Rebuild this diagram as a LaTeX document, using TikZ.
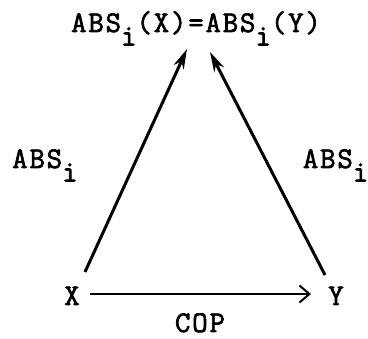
\documentclass[tikz,border=0pt]{standalone}
\usepackage{fontspec}
\newfontfamily\tw{Latin Modern Mono}[FakeBold=2.2,LetterSpace=6]
\usetikzlibrary{arrows.meta}
\newcommand{\sbi}{\raisebox{-0.45em}{i}}
\tikzset{
  lbl/.style={font=\tw\fontsize{30}{34}\selectfont, inner sep=0pt, anchor=base},
  diag/.style={line width=3pt, -{Stealth[length=20pt,width=11pt]}},
  horiz/.style={line width=2.4pt, -{Straight Barb[length=10pt,width=17pt,line width=2pt]}}
}
\begin{document}
\begin{tikzpicture}[x=1pt,y=1pt]
\useasboundingbox (0,0) rectangle (368,339);
\node[lbl] (top) at (196,307) {ABS\sbi(X)=ABS\sbi(Y)};
\node[lbl] (X) at (72,34) {X};
\node[lbl] (Y) at (336,34) {Y};
\node[lbl] (cop) at (200,7) {COP};
\node[lbl, anchor=base west] (labl) at (12,171) {ABS\sbi};
\node[lbl, anchor=base east] (labr) at (367,171) {ABS\sbi\kern-1.5pt};
\coordinate (xl) at (85,67);
\coordinate (tl) at (187,290);
\coordinate (yr) at (325,64);
\coordinate (tr) at (210,287);
\draw[diag] (xl) -- (tl);
\draw[diag] (yr) -- (tr);
\draw[horiz] ([xshift=10pt]X.east |- 0,45) -- (311,45);
\end{tikzpicture}
\end{document}
